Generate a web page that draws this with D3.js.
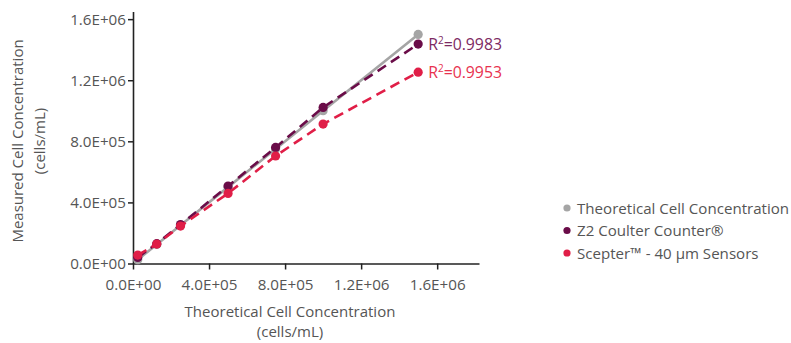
<!DOCTYPE html>
<html>
<head>
<meta charset="utf-8">
<script src="https://cdn.jsdelivr.net/npm/d3@7"></script>
<style>
  body { margin: 0; background: #fff; }
  text { font-family: "Open Sans", sans-serif; fill: #555; }
</style>
</head>
<body>
<script>
// values
var theoretical = [25000, 125000, 250000, 500000, 750000, 1000000, 1500000];
var z2Values = [40000, 130000, 255000, 507000, 760000, 1022000, 1437000];
var scepterValues = [55000, 127000, 245000, 459000, 704000, 913000, 1253000];
var xTicks = [0, 400000, 800000, 1200000, 1600000];
var yTicks = [0, 400000, 800000, 1200000, 1600000];
var seriesNames = ["Theoretical Cell Concentration", "Z2 Coulter Counter\u00AE", "Scepter\u2122 - 40 \u00B5m Sensors"];
var r2Labels = ["0.9983", "0.9953"];

var colors = ["#a5a5a5", "#6a0c48", "#e01e47"];
var labelColors = ["#7d2a63", "#e8324f"];

var width = 791, height = 343;

var svg = d3.select("body")
    .append("svg")
    .attr("width", width)
    .attr("height", height);

var x = d3.scaleLinear().domain([0, 1820000]).range([133, 479]);
var y = d3.scaleLinear().domain([0, 1650000]).range([263.5, 11.5]);

var fmt = function(d) { return d.toExponential(1).toUpperCase().replace(/E\+(\d)$/, "E+0$1"); };

var xAxis = svg.append("g")
    .attr("transform", "translate(0," + y(0) + ")")
    .call(d3.axisBottom(x).tickValues(xTicks).tickFormat(fmt).tickSize(6).tickSizeOuter(0));
var yAxis = svg.append("g")
    .attr("transform", "translate(" + x(0) + ",0)")
    .call(d3.axisLeft(y).tickValues(yTicks).tickFormat(fmt).tickSize(5).tickSizeOuter(0));

[xAxis, yAxis].forEach(function(a) {
    a.select(".domain").attr("stroke", "#222").attr("stroke-width", 1.6);
    a.selectAll(".tick line").attr("stroke", "#222").attr("stroke-width", 1.5);
    a.selectAll(".tick text").style("font-size", "15.2px").style("fill", "#555");
});
xAxis.selectAll(".tick text").attr("dy", "1.15em");
yAxis.selectAll(".tick text").attr("x", -7);

// axis titles
svg.append("text").attr("x", 290).attr("y", 317).attr("text-anchor", "middle")
    .style("font-size", "15px").text("Theoretical Cell Concentration");
svg.append("text").attr("x", 290).attr("y", 337).attr("text-anchor", "middle")
    .style("font-size", "15px").text("(cells/mL)");
svg.append("text").attr("transform", "translate(23,141) rotate(-90)").attr("text-anchor", "middle")
    .style("font-size", "15px").text("Measured Cell Concentration");
svg.append("text").attr("transform", "translate(45,141) rotate(-90)").attr("text-anchor", "middle")
    .style("font-size", "15px").text("(cells/mL)");

var series = [theoretical, z2Values, scepterValues];

var line = d3.line()
    .x(function(d) { return x(d[0]); })
    .y(function(d) { return y(d[1]); });

series.forEach(function(vals, i) {
    var pts = theoretical.map(function(t, k) { return [t, vals[k]]; });
    svg.append("path")
        .datum(pts)
        .attr("d", line)
        .attr("fill", "none")
        .attr("stroke", colors[i])
        .attr("stroke-width", 2.6)
        .attr("stroke-dasharray", i == 0 ? null : "10,6");
    svg.selectAll(".dot" + i)
        .data(pts)
        .enter()
        .append("circle")
        .attr("cx", function(d) { return x(d[0]); })
        .attr("cy", function(d) { return y(d[1]); })
        .attr("r", 4.6)
        .attr("fill", colors[i]);
});

// R squared labels
[z2Values, scepterValues].forEach(function(vals, i) {
    var last = vals.length - 1;
    var t = svg.append("text")
        .attr("x", x(theoretical[last]) + 10)
        .attr("y", y(vals[last]) + 5.5)
        .style("font-size", "15.8px")
        .style("fill", labelColors[i]);
    t.append("tspan").text("R");
    t.append("tspan").attr("dy", -6).style("font-size", "10px").text("2");
    t.append("tspan").attr("dy", 6).text("=" + r2Labels[i]);
});

// legend
var legend = svg.selectAll(".legend")
    .data(seriesNames)
    .enter()
    .append("g")
    .attr("transform", function(d, i) { return "translate(567," + (208 + i * 22.5) + ")"; });
legend.append("circle").attr("r", 3.6).attr("fill", function(d, i) { return colors[i]; });
legend.append("text").attr("x", 10).attr("y", 5.5).style("font-size", "15.1px").style("fill", "#555")
    .text(function(d) { return d; });
</script>
</body>
</html>
